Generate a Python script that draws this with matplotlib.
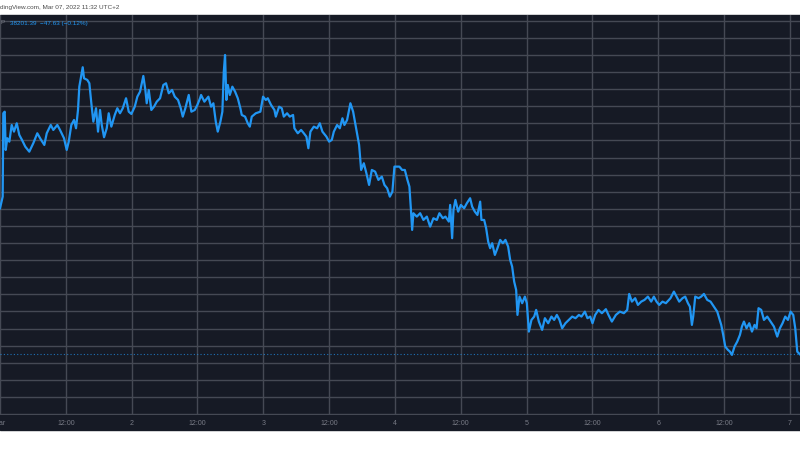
import numpy as np
import matplotlib
matplotlib.use("Agg")
import matplotlib.pyplot as plt
from matplotlib.patches import Rectangle

# BTC price, hours since Mar 1 00:00
hours = [
    0.0, 0.49, 0.60, 0.86, 1.04, 1.33, 1.70, 2.13, 2.55, 3.05, 3.52, 4.01, 4.61, 5.34,
    6.07, 6.80, 7.42, 8.08, 8.52, 9.25, 9.72, 10.45, 10.94, 11.67, 12.16, 12.53, 13.00,
    13.50, 13.86, 14.22, 14.46, 15.08, 15.32, 15.92, 16.29, 16.65, 17.02, 17.51, 17.87,
    18.24, 18.55, 18.97, 19.46, 19.82, 20.30, 20.92, 21.39, 21.88, 22.38, 22.98, 23.47,
    23.95, 24.57, 25.04, 25.53, 26.13, 26.50, 26.75, 27.12, 27.59, 28.08, 28.58, 29.18,
    29.78, 30.27, 30.77, 31.37, 31.86, 32.46, 32.95, 33.32, 33.79, 34.41, 34.89, 35.51,
    35.98, 36.47, 36.66, 37.26, 37.99, 38.48, 38.90, 39.34, 39.70, 40.18, 40.54, 40.80,
    41.03, 41.27, 41.53, 41.89, 42.36, 42.86, 43.35, 43.82, 44.08, 44.68, 45.17, 45.54,
    45.90, 46.63, 47.47, 47.96, 48.46, 48.82, 49.42, 50.03, 50.28, 50.88, 51.37, 51.74,
    52.34, 52.83, 53.43, 53.67, 54.29, 54.89, 55.39, 55.86, 56.22, 56.59, 57.21, 57.81,
    58.30, 58.78, 59.51, 60.00, 60.49, 60.86, 61.46, 61.95, 62.43, 62.79, 63.28, 63.88,
    64.38, 64.98, 65.47, 65.84, 66.33, 66.80, 67.29, 67.79, 68.39, 68.99, 69.61, 70.09,
    70.58, 71.07, 71.54, 71.91, 72.22, 72.82, 73.31, 73.81, 74.28, 74.64, 74.90, 75.14,
    75.37, 75.99, 76.60, 77.20, 77.82, 78.42, 79.02, 79.64, 80.11, 80.73, 81.21, 81.83,
    82.07, 82.43, 82.67, 83.03, 83.53, 84.02, 84.62, 85.11, 85.71, 86.08, 86.57, 87.04,
    87.54, 87.77, 88.27, 88.63, 89.00, 89.36, 89.73, 90.22, 90.69, 91.19, 91.68, 92.15,
    92.64, 93.01, 93.37, 93.74, 94.10, 94.34, 94.71, 95.20, 95.69, 96.05, 96.42, 96.89,
    97.39, 97.75, 98.24, 98.84, 99.34, 99.94, 100.54, 101.03, 101.52, 102.00, 102.49,
    103.09, 103.71, 104.32, 104.92, 105.54, 106.01, 106.63, 107.10, 107.60, 108.02,
    108.51, 109.11, 109.73, 110.46, 110.93, 111.55, 112.28, 113.01, 113.74, 114.35,
    114.71, 115.20, 115.80, 116.30, 116.90, 117.50, 118.12, 118.72, 119.21, 119.69,
    120.18, 120.78, 121.40, 122.24, 122.86, 123.34, 123.83, 124.43, 124.92, 125.42,
    125.78, 126.14, 126.38, 126.75, 127.35, 127.84, 128.33, 128.94, 129.54, 130.16,
    130.76, 131.12, 131.49, 131.85, 132.22, 132.71, 133.07, 133.44, 133.91, 134.41,
    134.90, 135.26, 135.63, 136.10, 136.60, 137.09, 137.56, 137.93, 138.29, 138.78,
    139.28, 139.88, 140.48, 141.10, 141.70, 142.19, 142.67, 143.16, 143.65, 144.13,
    144.62, 144.98, 145.35, 145.80,
]
price = [
    41610, 41885, 43835, 43872, 42977, 43251, 43171, 43561, 43405, 43601, 43328, 43211, 43054, 42937,
    43134, 43367, 43227, 43094, 43367, 43561, 43445, 43561, 43445, 43251, 42977, 43171, 43561,
    43678, 43484, 43912, 44457, 44911, 44653, 44614, 44536, 44069, 43639, 43952, 43405,
    43912, 43561, 43274, 43484, 43835, 43522, 43795, 43952, 43835, 43952, 44186, 43872,
    43819, 43989, 44223, 44340, 44707, 44380, 44069, 44380, 43912, 43989, 44106, 44186,
    44497, 44536, 44303, 44380, 44223, 44146, 43952, 43756, 43952, 44263, 43872, 43912,
    44029, 44186, 44263, 44106, 44223, 43989, 44069, 43639, 43405, 43639, 43872, 44808,
    45198, 44146, 44497, 44263, 44457, 44340, 44186, 43952, 43795, 43756, 43601, 43522,
    43756, 43835, 43872, 44223, 44146, 44186, 44029, 43912, 43756, 43989, 43952, 43756,
    43835, 43756, 43795, 43484, 43367, 43445, 43367, 43288, 43017, 43405, 43522, 43484,
    43601, 43405, 43288, 43171, 43211, 43405, 43561, 43484, 43718, 43561, 43678, 44069,
    43872, 43445, 43094, 42509, 42666, 42432, 42159, 42509, 42470, 42276, 42353, 42159,
    42082, 41885, 42002, 42587, 42587, 42587, 42509, 42509, 42276, 42119, 41614, 41107,
    41497, 41418, 41497, 41340, 41418, 41184, 41380, 41340, 41497, 41380, 41418, 41301,
    41691, 40913, 41574, 41808, 41534, 41691, 41614, 41731, 41848, 41651, 41534, 41457,
    41768, 41340, 41340, 41146, 40833, 40679, 40796, 40522, 40679, 40873, 40796, 40873,
    40716, 40405, 40249, 39898, 39704, 39119, 39547, 39393, 39547, 39393, 38729, 39002,
    39080, 39236, 38963, 38769, 39042, 38925, 39080, 39002, 39119, 39002, 38808,
    38925, 39002, 39080, 39042, 39119, 39080, 39196, 39042, 39080, 38925,
    39119, 39236, 39159, 39253, 39119, 38963, 39119, 39196, 39159, 39236,
    39610, 39430, 39510, 39353, 39430, 39470, 39547, 39430, 39547, 39430,
    39353, 39430, 39393, 39510, 39664, 39547, 39430, 39510, 39547, 39393,
    39313, 38885, 39080, 39547, 39510, 39547, 39610, 39470, 39430, 39313,
    39196, 39042, 38885, 38652, 38378, 38301, 38261, 38184, 38378, 38495,
    38652, 38846, 38963, 38808, 38925, 38729, 38885, 38808, 39276, 39236,
    39002, 39080, 38963, 38846, 38612, 38808, 38925, 39080, 39002, 39196,
    39119, 38808, 38261, 38201,
]

last_price = 38201.39
x_ticks = [0, 12, 24, 36, 48, 60, 72, 84, 96, 108, 120, 132, 144]
x_labels = ["Mar", "12:00", "2", "12:00", "3", "12:00", "4", "12:00", "5", "12:00", "6", "12:00", "7"]

bg = "#161a25"
grid_c = "#454954"
blue = "#2196f3"
label_c = "#787b86"

fig = plt.figure(figsize=(8, 4.5), dpi=100, facecolor="white")
# dark panel incl. the time-axis strip
fig.add_artist(Rectangle((0, 1 - 430 / 450), 1, (430 - 14.7) / 450,
                         transform=fig.transFigure, color=bg, zorder=0))

ax = fig.add_axes([0, 1 - 414.5 / 450, 1, (414.5 - 14.7) / 450])
ax.set_facecolor(bg)
for s in ax.spines.values():
    s.set_visible(False)

ax.plot(hours, price, color=blue, lw=1.6, zorder=3)
ax.axhline(last_price, color=blue, lw=0.8, ls=(0, (1, 2)), alpha=0.7, zorder=2)

ax.set_xlim(0, 145.85)
ax.set_ylim(36790, 46140)
ax.set_yticks(np.arange(36800, 46001, 400))
ax.set_xticks(x_ticks)
ax.set_xticklabels(x_labels)
ax.tick_params(axis="y", left=False, labelleft=False)
ax.tick_params(axis="x", length=0, pad=4, colors=label_c, labelsize=5)
for t in ax.get_xticklabels():
    t.set_fontfamily("Liberation Sans")
ax.grid(True, color=grid_c, lw=1)
ax.set_axisbelow(True)

fig.text(0, 1 - 7.5 / 450, "dingView.com, Mar 07, 2022 11:32 UTC+2",
         ha="left", va="center", fontsize=4.6, color="#4a4a4a", family="Liberation Sans")
fig.text(5 / 800, 1 - 23 / 450, "P", ha="right", va="center", fontsize=4.6,
         color=label_c, family="Liberation Sans")
fig.text(10 / 800, 1 - 23 / 450, "38201.39  \u221247.63 (\u22120.12%)",
         ha="left", va="center", fontsize=4.6, color=blue, family="Liberation Sans")

fig.savefig("out.png", dpi=100, facecolor="white")
